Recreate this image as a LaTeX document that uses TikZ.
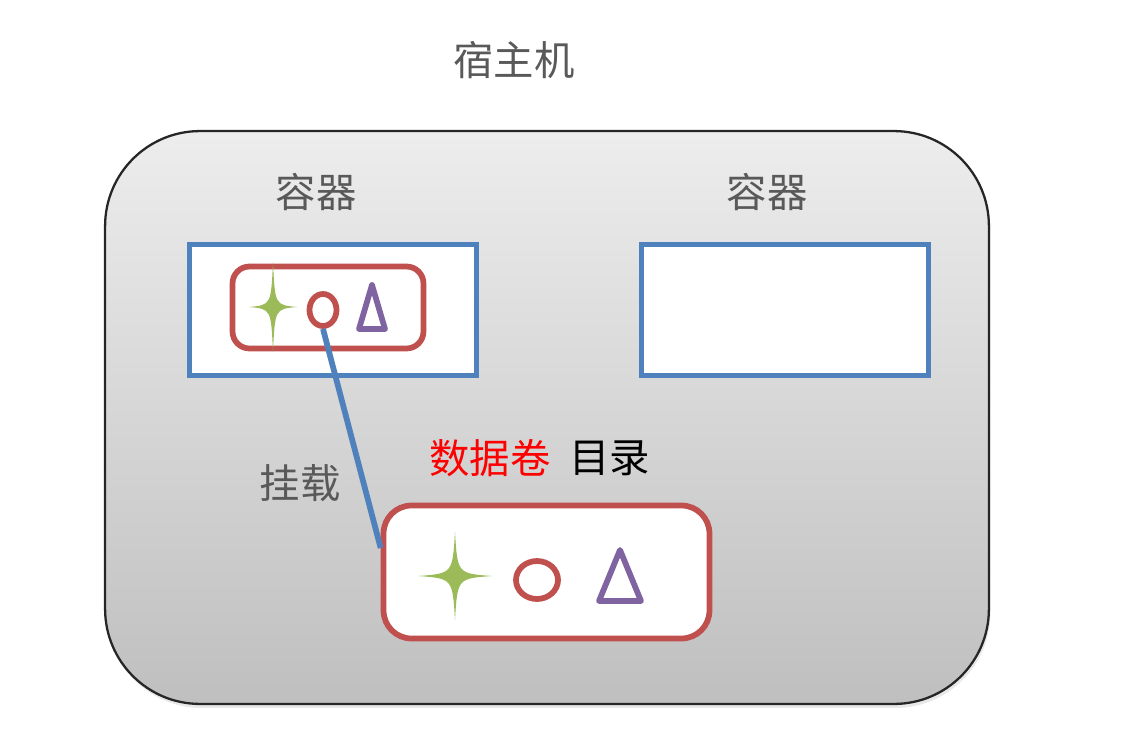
\documentclass[tikz,border=0pt]{standalone}
\usepackage{fontspec}
\setmainfont{Noto Sans CJK SC}
\usetikzlibrary{shapes.geometric,shadows,positioning}

\definecolor{boxblue}{HTML}{4F81BD}
\definecolor{volred}{HTML}{C0504D}
\definecolor{stargreen}{HTML}{9BBB59}
\definecolor{tripurple}{HTML}{8064A2}
\definecolor{textgray}{HTML}{595959}
\definecolor{hosttop}{HTML}{EDEDED}
\definecolor{hostbot}{HTML}{BFBFBF}

\tikzset{
	label text/.style={inner sep=0pt, font=\fontsize{23}{27}\selectfont, text=textgray},
	container/.style={draw=boxblue, line width=0.115cm, fill=white, inner sep=0pt,
		minimum width=5.74cm, minimum height=2.62cm},
	volbox/.style={draw=volred, line width=0.115cm, fill=white, inner sep=0pt},
	tri/.style={draw=tripurple, line width=0.115cm, line join=round}
}

\begin{document}
\begin{tikzpicture}[x=0.02cm, y=-0.02cm]
		\useasboundingbox (0,0) rectangle (1143,730);
		% host
		\node[draw=black!85, line width=1.3pt, rounded corners=1.9cm, inner sep=0pt,
			top color=hosttop, bottom color=hostbot,
			drop shadow={shadow xshift=0.03cm, shadow yshift=-0.08cm, opacity=0.18},
			minimum width=17.68cm, minimum height=11.46cm] (host) at (547,417.5) {};
		\node[label text] (hostname) at (514,60) {宿主机};
		% containers
		\node[container] (box1) at (333,310) {};
		\node[container] (box2) at (785,310) {};
		\node[label text] (name1) at (316,192) {容器};
		\node[label text] (name2) at (767,192) {容器};
		% files inside the container
		\node[volbox, rounded corners=0.34cm, minimum width=3.82cm, minimum height=1.64cm] (inner) at (328,307.5) {};
		\fill[stargreen] (273,262) .. controls (275,305) .. (297,307) .. controls (275,309) .. (273,352)
			.. controls (271,309) .. (249,307) .. controls (271,305) .. cycle;
		\node[ellipse, draw=volred, line width=0.115cm, inner sep=0pt, minimum width=0.54cm, minimum height=0.64cm] (dot1) at (323,310) {};
		\draw[tri] (372,285) -- (385,329) -- (359,329) -- cycle;
		% data volume
		\node[volbox, rounded corners=0.56cm, minimum width=6.52cm, minimum height=2.66cm] (vol) at (546.5,572) {};
		\fill[stargreen] (455,532) .. controls (457.5,573.5) .. (492,576) .. controls (457.5,578.5) .. (455,620)
			.. controls (452.5,578.5) .. (418,576) .. controls (452.5,573.5) .. cycle;
		\node[ellipse, draw=volred, line width=0.115cm, inner sep=0pt, minimum width=0.84cm, minimum height=0.76cm] (dot2) at (537,580) {};
		\draw[tri] (620,550) -- (641,601) -- (599,601) -- cycle;
		\node[label text, text=red] (volname) at (490,458) {数据卷};
		\node[label text, text=black, right=0.36cm of volname] (dirname) {目录};
		% mount
		\draw[boxblue, line width=0.115cm] (dot1.south) -- ([yshift=0.48cm]vol.west);
		\node[label text] (mount) at (300,483) {挂载};
	\end{tikzpicture}
\end{document}
